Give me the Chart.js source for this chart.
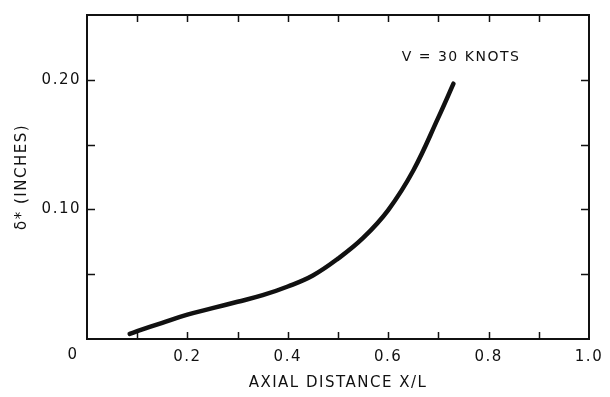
<!DOCTYPE html>
<html>
<head>
<meta charset="utf-8">
<script src="https://cdn.jsdelivr.net/npm/chart.js@4.4.0/dist/chart.umd.min.js"></script>
<style>
  html, body { margin: 0; padding: 0; background: #fff; }
  #wrap { width: 610px; height: 397px; }
</style>
</head>
<body>
<div id="wrap"><canvas id="myChart" width="610" height="397"></canvas></div>
<script>
// curve: axial distance x/L and displacement thickness (inches)
const axialDistance = [0.085, 0.10, 0.15, 0.20, 0.25, 0.30, 0.35, 0.40, 0.45, 0.50, 0.55, 0.60, 0.65, 0.70, 0.73];
const deltaStar = [0.004, 0.006, 0.0125, 0.0188, 0.0238, 0.0287, 0.0338, 0.0405, 0.049, 0.062, 0.078, 0.0995, 0.130, 0.171, 0.197];

// tick labels
const xLabels = { '0.2': '0.2', '0.4': '0.4', '0.6': '0.6', '0.8': '0.8', '1': '1.0' };
const yLabels = { '0.1': '0.10', '0.2': '0.20' };
const note = 'V = 30 KNOTS';
const notePos = [0.627, 0.217];

const ink = '#111';
const labelFont = { family: 'DejaVu Sans', size: 15 };

function fmt(v) {
    return String(Math.round(v * 100) / 100);
}

// inward tick marks on all four sides, plus the shared origin "0" and the note
const frameTicks = {
    id: 'frameTicks',
    beforeDraw(chart) {
        chart.ctx.letterSpacing = '1.5px';
    },
    afterDraw(chart) {
        const { ctx, chartArea: a } = chart;
        const xs = chart.scales.x;
        const ys = chart.scales.y;
        ctx.save();
        ctx.strokeStyle = ink;
        ctx.lineWidth = 1.5;
        ctx.beginPath();
        xs.ticks.forEach(t => {
            if (t.value <= 0 || t.value >= 1) return;
            const px = Math.round(xs.getPixelForValue(t.value)) + 0.5;
            ctx.moveTo(px, a.bottom);
            ctx.lineTo(px, a.bottom - 7);
            ctx.moveTo(px, a.top);
            ctx.lineTo(px, a.top + 7);
        });
        ys.ticks.forEach(t => {
            if (t.value <= 0 || t.value >= 0.25) return;
            const py = Math.round(ys.getPixelForValue(t.value)) + 0.5;
            ctx.moveTo(a.left, py);
            ctx.lineTo(a.left + 8, py);
            ctx.moveTo(a.right, py);
            ctx.lineTo(a.right - 8, py);
        });
        ctx.stroke();

        ctx.fillStyle = ink;
        ctx.font = '15px "DejaVu Sans"';
        ctx.textAlign = 'center';
        ctx.textBaseline = 'middle';
        ctx.fillText('0', xs.getPixelForValue(0) - 14, ys.getPixelForValue(0) + 16);

        ctx.font = '14px "DejaVu Sans"';
        ctx.textAlign = 'left';
        ctx.fillText(note, xs.getPixelForValue(notePos[0]), ys.getPixelForValue(notePos[1]));
        ctx.restore();
    }
};

const ctx = document.getElementById('myChart').getContext('2d');

const myChart = new Chart(ctx, {
    type: 'line',
    data: {
        datasets: [
            {
                data: axialDistance.map((x, i) => ({ x: x, y: deltaStar[i] })),
                borderColor: ink,
                borderWidth: 4.5,
                borderCapStyle: 'round',
                pointRadius: 0,
                fill: false,
                tension: 0.4
            }
        ]
    },
    options: {
        responsive: false,
        animation: false,
        layout: { padding: { top: 13, right: 21, left: 0, bottom: 0 } },
        plugins: {
            legend: { display: false },
            tooltip: { enabled: false }
        },
        scales: {
            x: {
                type: 'linear',
                min: 0,
                max: 1,
                grid: { display: false, drawTicks: false },
                border: { display: true, color: ink, width: 2 },
                ticks: {
                    stepSize: 0.1,
                    color: ink,
                    font: labelFont,
                    padding: 9,
                    maxRotation: 0,
                    autoSkip: false,
                    callback: v => xLabels[fmt(v)] || ''
                },
                title: {
                    display: true,
                    text: 'AXIAL DISTANCE X/L',
                    color: ink,
                    font: labelFont,
                    padding: { top: 0, bottom: 5 }
                },
                afterFit: scale => { scale.height = 58; }
            },
            x2: {
                type: 'linear',
                position: 'top',
                min: 0,
                max: 1,
                grid: { display: false, drawTicks: false },
                border: { display: true, color: ink, width: 2 },
                ticks: { display: false },
                afterFit: scale => { scale.height = 0; }
            },
            y: {
                min: 0,
                max: 0.25,
                grid: { display: false, drawTicks: false },
                border: { display: true, color: ink, width: 2 },
                ticks: {
                    stepSize: 0.05,
                    color: ink,
                    font: labelFont,
                    padding: 6,
                    autoSkip: false,
                    callback: v => yLabels[fmt(v)] || ''
                },
                title: {
                    display: true,
                    text: 'δ* (INCHES)',
                    color: ink,
                    font: labelFont,
                    padding: { top: 13, bottom: 0 }
                },
                afterFit: scale => { scale.width = 87; }
            },
            y2: {
                position: 'right',
                min: 0,
                max: 0.25,
                grid: { display: false, drawTicks: false },
                border: { display: true, color: ink, width: 2 },
                ticks: { display: false },
                afterFit: scale => { scale.width = 0; }
            }
        }
    },
    plugins: [frameTicks]
});
</script>
</body>
</html>
